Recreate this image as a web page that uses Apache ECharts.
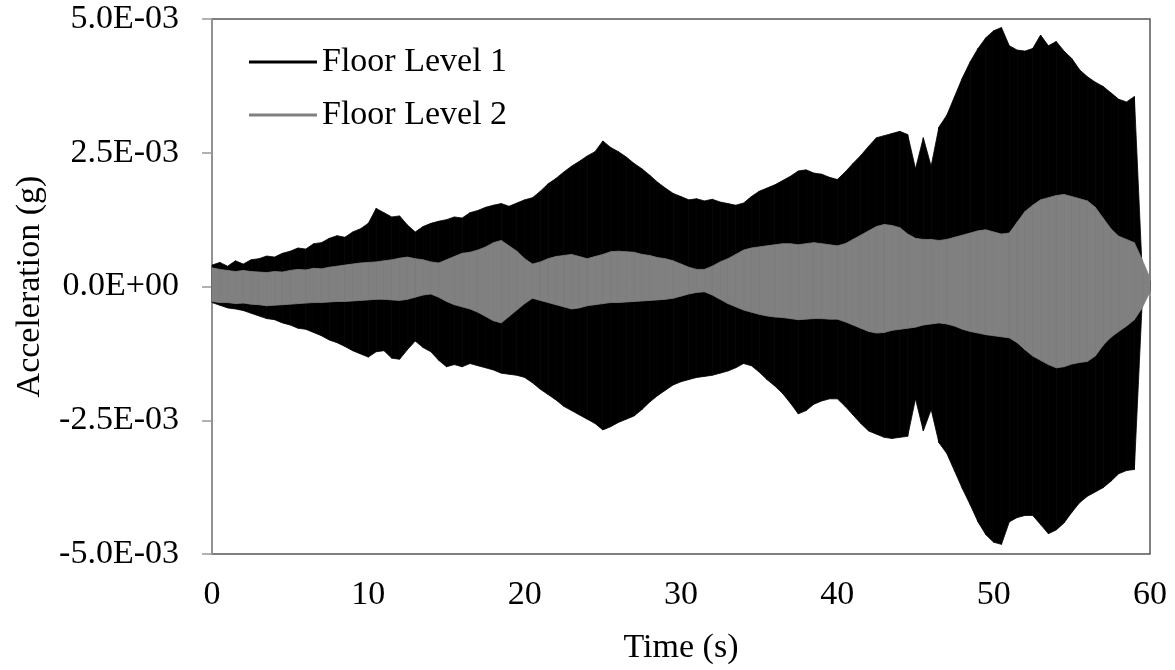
<!DOCTYPE html>
<html>
<head>
<meta charset="utf-8">
<script src="https://cdn.jsdelivr.net/npm/echarts@6/dist/echarts.min.js"></script>
<style>
  html, body { margin: 0; padding: 0; background: #fff; }
  #accChart { width: 1175px; height: 670px; }
</style>
</head>
<body>
<div id="accChart"></div>
<script>
// envelope peaks every 0.5 s (units of 1E-03 g)
const sampleStep = 0.5;
const seriesNames = ['Floor Level 1', 'Floor Level 2'];
const xTicks = [0, 10, 20, 30, 40, 50, 60];
const yTicks = [-5, -2.5, 0, 2.5, 5];

const floor1Upper = [
  0.40, 0.45, 0.38, 0.48, 0.42, 0.50, 0.52, 0.57, 0.55, 0.62,
  0.66, 0.72, 0.70, 0.80, 0.82, 0.90, 0.95, 0.92, 1.02, 1.08,
  1.18, 1.46, 1.38, 1.30, 1.32, 1.15, 1.02, 1.12, 1.18, 1.22,
  1.25, 1.30, 1.28, 1.38, 1.42, 1.48, 1.52, 1.55, 1.50, 1.56,
  1.62, 1.66, 1.78, 1.92, 2.02, 2.14, 2.25, 2.34, 2.44, 2.52,
  2.72, 2.60, 2.52, 2.42, 2.30, 2.20, 2.08, 1.95, 1.84, 1.74,
  1.68, 1.62, 1.64, 1.60, 1.63, 1.58, 1.55, 1.52, 1.56, 1.68,
  1.78, 1.84, 1.90, 1.98, 2.06, 2.16, 2.18, 2.12, 2.10, 2.04,
  2.00, 2.14, 2.30, 2.45, 2.62, 2.78, 2.82, 2.86, 2.90, 2.84,
  2.20, 2.78, 2.25, 2.98, 3.20, 3.55, 3.90, 4.20, 4.45, 4.65,
  4.78, 4.84, 4.50, 4.42, 4.40, 4.45, 4.70, 4.50, 4.58, 4.40,
  4.26, 4.05, 3.92, 3.82, 3.74, 3.62, 3.50, 3.45, 3.55, 0.30,
  0.10
];
const floor1Lower = [
  -0.30, -0.35, -0.40, -0.42, -0.45, -0.50, -0.55, -0.60, -0.62, -0.68,
  -0.72, -0.78, -0.80, -0.86, -0.92, -1.00, -1.05, -1.12, -1.20, -1.26,
  -1.32, -1.22, -1.20, -1.34, -1.36, -1.18, -1.02, -1.14, -1.22, -1.38,
  -1.50, -1.46, -1.50, -1.44, -1.48, -1.52, -1.56, -1.62, -1.64, -1.66,
  -1.70, -1.80, -1.92, -2.02, -2.12, -2.24, -2.32, -2.40, -2.48, -2.56,
  -2.68, -2.62, -2.54, -2.48, -2.42, -2.30, -2.16, -2.04, -1.94, -1.84,
  -1.78, -1.74, -1.70, -1.68, -1.66, -1.62, -1.58, -1.52, -1.44, -1.48,
  -1.60, -1.74, -1.86, -2.00, -2.18, -2.38, -2.32, -2.20, -2.14, -2.10,
  -2.10, -2.24, -2.40, -2.56, -2.70, -2.76, -2.82, -2.84, -2.82, -2.80,
  -2.10, -2.70, -2.30, -2.92, -3.12, -3.45, -3.78, -4.08, -4.40, -4.64,
  -4.78, -4.82, -4.40, -4.32, -4.28, -4.28, -4.45, -4.62, -4.55, -4.42,
  -4.22, -4.04, -3.92, -3.84, -3.76, -3.64, -3.50, -3.44, -3.42, -0.30,
  -0.10
];
const floor2Upper = [
  0.35, 0.32, 0.30, 0.28, 0.30, 0.28, 0.27, 0.26, 0.28, 0.27,
  0.30, 0.32, 0.31, 0.34, 0.33, 0.36, 0.38, 0.40, 0.42, 0.44,
  0.45, 0.46, 0.48, 0.50, 0.53, 0.55, 0.52, 0.50, 0.46, 0.44,
  0.50, 0.56, 0.62, 0.64, 0.68, 0.74, 0.82, 0.86, 0.76, 0.66,
  0.52, 0.42, 0.46, 0.52, 0.56, 0.58, 0.60, 0.56, 0.52, 0.56,
  0.60, 0.65, 0.66, 0.65, 0.64, 0.60, 0.58, 0.54, 0.52, 0.48,
  0.42, 0.36, 0.32, 0.32, 0.38, 0.46, 0.52, 0.60, 0.68, 0.72,
  0.74, 0.76, 0.78, 0.80, 0.80, 0.78, 0.80, 0.82, 0.80, 0.78,
  0.76, 0.80, 0.88, 0.96, 1.04, 1.12, 1.16, 1.14, 1.10, 0.98,
  0.90, 0.88, 0.88, 0.86, 0.88, 0.92, 0.96, 1.00, 1.04, 1.06,
  1.02, 0.98, 1.00, 1.20, 1.40, 1.52, 1.62, 1.66, 1.70, 1.72,
  1.68, 1.64, 1.60, 1.48, 1.28, 1.08, 0.94, 0.88, 0.82, 0.50,
  0.16
];
const floor2Lower = [
  -0.28, -0.30, -0.30, -0.32, -0.31, -0.33, -0.34, -0.36, -0.35, -0.34,
  -0.33, -0.32, -0.31, -0.30, -0.30, -0.29, -0.28, -0.28, -0.27, -0.26,
  -0.25, -0.24, -0.24, -0.25, -0.26, -0.24, -0.20, -0.16, -0.14, -0.20,
  -0.28, -0.34, -0.38, -0.42, -0.48, -0.56, -0.64, -0.68, -0.56, -0.44,
  -0.32, -0.22, -0.26, -0.30, -0.34, -0.38, -0.42, -0.40, -0.36, -0.34,
  -0.32, -0.30, -0.30, -0.29, -0.28, -0.27, -0.26, -0.25, -0.24, -0.22,
  -0.18, -0.14, -0.11, -0.10, -0.16, -0.24, -0.32, -0.38, -0.44, -0.48,
  -0.52, -0.55, -0.57, -0.58, -0.60, -0.62, -0.61, -0.60, -0.60, -0.61,
  -0.61, -0.66, -0.72, -0.78, -0.84, -0.87, -0.86, -0.82, -0.80, -0.78,
  -0.76, -0.72, -0.70, -0.68, -0.70, -0.74, -0.80, -0.84, -0.87, -0.90,
  -0.92, -0.94, -0.96, -1.05, -1.18, -1.30, -1.38, -1.46, -1.52, -1.50,
  -1.45, -1.42, -1.40, -1.30, -1.10, -0.95, -0.84, -0.74, -0.62, -0.40,
  -0.10
];

// one row per 0.5 s slice: [t0, t1, upper0, upper1, lower0, lower1]
function slices(upper, lower) {
  const rows = [];
  for (let i = 0; i < upper.length - 1; i++) {
    rows.push([i * sampleStep, (i + 1) * sampleStep, upper[i], upper[i + 1], lower[i], lower[i + 1]]);
  }
  return rows;
}

function sciLabel(v) {
  const s = (v * 1e-3).toExponential(1);
  const parts = s.split('e');
  const sign = parts[1][0];
  const exp = parts[1].slice(1).padStart(2, '0');
  return parts[0] + 'E' + sign + exp;
}

function bandSeries(name, color, upper, lower, z) {
  return {
    name: name,
    type: 'custom',
    coordinateSystem: 'cartesian2d',
    data: slices(upper, lower),
    encode: { x: [0, 1], y: [2, 3, 4, 5] },
    itemStyle: { color: color },
    z: z,
    renderItem: function (params, api) {
      const a = api.coord([api.value(0), api.value(2)]);
      const b = api.coord([api.value(1), api.value(3)]);
      const c = api.coord([api.value(1), api.value(5)]);
      const d = api.coord([api.value(0), api.value(4)]);
      return {
        type: 'polygon',
        shape: { points: [a, b, c, d] },
        style: { fill: color, stroke: color, lineWidth: 0.8 }
      };
    }
  };
}

const font = '"Liberation Serif", "Times New Roman", serif';
const chart = echarts.init(document.getElementById('accChart'));

const option = {
  animation: false,
  backgroundColor: '#fff',
  textStyle: { fontFamily: font, color: '#000' },
  grid: {
    left: 212, right: 25, top: 19, bottom: 113,
    show: true, borderColor: '#555', borderWidth: 1.5
  },
  legend: {
    data: seriesNames,
    orient: 'vertical',
    left: 244, top: 40,
    icon: 'rect',
    itemWidth: 68, itemHeight: 3,
    itemGap: 19,
    textStyle: { fontFamily: font, fontSize: 34, color: '#000' }
  },
  xAxis: {
    type: 'value',
    min: xTicks[0], max: xTicks[xTicks.length - 1], interval: 10,
    name: 'Time (s)', nameLocation: 'middle', nameGap: 77,
    nameTextStyle: { fontFamily: font, fontSize: 34, color: '#000' },
    axisLine: { lineStyle: { color: '#999', width: 1.5 } },
    axisTick: { inside: false, length: 10, lineStyle: { color: '#999', width: 1.5 } },
    axisLabel: { fontFamily: font, fontSize: 34, color: '#000', margin: 24 },
    splitLine: { show: false }
  },
  yAxis: {
    type: 'value',
    min: yTicks[0], max: yTicks[yTicks.length - 1], interval: 2.5,
    name: 'Acceleration (g)', nameLocation: 'middle', nameGap: 165,
    nameTextStyle: { fontFamily: font, fontSize: 34, color: '#000' },
    axisLine: { show: true, lineStyle: { color: '#999', width: 1.5 } },
    axisTick: { show: true, inside: false, length: 10, lineStyle: { color: '#999', width: 1.5 } },
    axisLabel: { fontFamily: font, fontSize: 34, color: '#000', margin: 33, formatter: sciLabel },
    splitLine: { show: false }
  },
  series: [
    bandSeries(seriesNames[0], '#000000', floor1Upper, floor1Lower, 2),
    bandSeries(seriesNames[1], '#808080', floor2Upper, floor2Lower, 3)
  ]
};

chart.setOption(option);
</script>
</body>
</html>
